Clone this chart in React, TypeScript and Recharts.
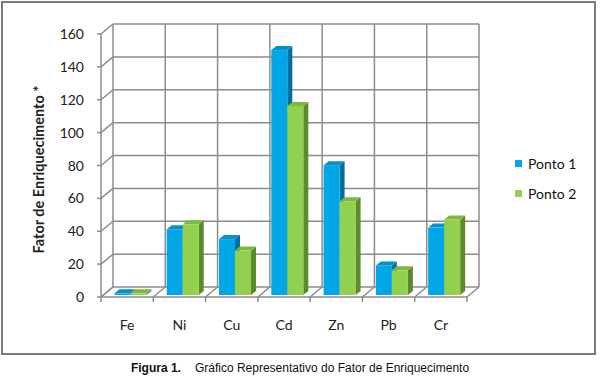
import { Bar, BarChart, CartesianGrid, XAxis, YAxis } from "recharts";

const CATEGORIES = ["Fe", "Ni", "Cu", "Cd", "Zn", "Pb", "Cr"];
const PONTO_1 = [1, 40, 34, 149, 79, 18, 41];
const PONTO_2 = [1, 43, 27, 115, 57, 15, 46];
const Y_TICKS = [0, 20, 40, 60, 80, 100, 120, 140, 160];

const SERIES = [
  { key: "p1", name: "Ponto 1", front: "#00a6e6", top: "#0b8fca", side: "#006f9e" },
  { key: "p2", name: "Ponto 2", front: "#92d050", top: "#7db83f", side: "#5c8a2c" },
];

const data = CATEGORIES.map((name, i) => ({ name, p1: PONTO_1[i], p2: PONTO_2[i] }));

// back wall of the 3D box; the floor and side wall are drawn in front of it
const PLOT_LEFT = 113;
const PLOT_TOP = 24;
const PLOT_W = 366;
const PLOT_H = 263;
const Y_AXIS_W = 80;
const X_AXIS_H = 30;

// oblique offset from the back wall to the front edge
const WALL_DX = 12;
const WALL_DY = 10;
// bars stand a little in front of the back wall
const BAR_DX = -9;
const BAR_DY = 8;
const DEPTH_X = 5;
const DEPTH_Y = 4;

const GRID = "#8c8c8c";
const FONT = "Lato, 'Open Sans', sans-serif";

function Box3D(props: any) {
  const { x, y, width, height, colors } = props;
  if (width == null || height == null) return null;
  const fx = x + BAR_DX;
  const fy = y + BAR_DY;
  const h = Math.max(height, 1);
  const w = width;
  return (
    <g>
      <polygon
        points={`${fx + w},${fy} ${fx + w + DEPTH_X},${fy - DEPTH_Y} ${fx + w + DEPTH_X},${fy + h - DEPTH_Y} ${fx + w},${fy + h}`}
        fill={colors.side}
      />
      <polygon
        points={`${fx},${fy} ${fx + DEPTH_X},${fy - DEPTH_Y} ${fx + w + DEPTH_X},${fy - DEPTH_Y} ${fx + w},${fy}`}
        fill={colors.top}
      />
      <rect x={fx} y={fy} width={w} height={h} fill={colors.front} />
    </g>
  );
}

function renderHLine(props: any) {
  const { x1, y1, x2, key } = props;
  const floor = Math.abs(y1 - (PLOT_TOP + PLOT_H)) < 0.5;
  return (
    <g key={key} stroke={GRID} strokeWidth={1.5}>
      <line x1={x1} y1={y1} x2={x2} y2={y1} />
      <line x1={x1 - WALL_DX} y1={y1 + WALL_DY} x2={x1} y2={y1} />
      <line x1={x1 - WALL_DX - 4} y1={y1 + WALL_DY} x2={x1 - WALL_DX} y2={y1 + WALL_DY} />
      {floor && <line x1={x1 - WALL_DX} y1={y1 + WALL_DY} x2={x2 - WALL_DX} y2={y1 + WALL_DY} />}
    </g>
  );
}

function renderVLine(props: any) {
  const { x1, y1, y2, key, index } = props;
  return (
    <g key={key} stroke={GRID} strokeWidth={1.5}>
      <line x1={x1} y1={y1} x2={x1} y2={y2} />
      <line x1={x1 - WALL_DX} y1={y2 + WALL_DY} x2={x1} y2={y2} />
      <line x1={x1 - WALL_DX} y1={y2 + WALL_DY} x2={x1 - WALL_DX} y2={y2 + WALL_DY + 5} />
      {index === 0 && <line x1={x1 - WALL_DX} y1={y1 + WALL_DY} x2={x1 - WALL_DX} y2={y2 + WALL_DY} />}
    </g>
  );
}

function YTick({ x, y, payload }: any) {
  return (
    <text x={x - WALL_DX - 17} y={y + WALL_DY + 5} textAnchor="end" fontFamily={FONT} fontSize={14} fill="#222">
      {payload.value}
    </text>
  );
}

function XTick({ x, y, payload }: any) {
  return (
    <text x={x - WALL_DX} y={y + 43} textAnchor="middle" fontFamily={FONT} fontSize={14} fill="#222">
      {payload.value}
    </text>
  );
}

function YTitle({ viewBox }: any) {
  const cx = viewBox.x + 5;
  const cy = viewBox.y + viewBox.height / 2 + WALL_DY + 4;
  return (
    <text
      x={cx}
      y={cy}
      transform={`rotate(-90, ${cx}, ${cy})`}
      textAnchor="middle"
      dominantBaseline="central"
      fontFamily={FONT}
      fontSize={14.5}
      fontWeight="bold"
      fill="#222"
    >
      Fator de Enriquecimento *
    </text>
  );
}

export default function App() {
  const n = CATEGORIES.length;
  return (
    <div style={{ position: "absolute", left: 0, top: 0, width: 600, height: 385, background: "#fff" }}>
      <div
        style={{
          position: "absolute",
          left: 1,
          top: 1,
          width: 591,
          height: 350,
          border: "2px solid #7a7a7a",
        }}
      />
      <div style={{ position: "absolute", left: 0, top: 0 }}>
        <BarChart
          width={600}
          height={385}
          data={data}
          barCategoryGap="20%"
          barGap={0}
          margin={{
            top: PLOT_TOP,
            right: 600 - PLOT_LEFT - PLOT_W,
            bottom: 385 - PLOT_TOP - PLOT_H - X_AXIS_H,
            left: PLOT_LEFT - Y_AXIS_W,
          }}
        >
          <CartesianGrid
            horizontal={renderHLine}
            vertical={renderVLine}
            verticalCoordinatesGenerator={({ offset }: any) =>
              Array.from({ length: n + 1 }, (_, i) => offset.left + (i * offset.width) / n)
            }
          />
          <XAxis
            dataKey="name"
            height={X_AXIS_H}
            axisLine={false}
            tickLine={false}
            tickSize={0}
            tickMargin={0}
            interval={0}
            tick={<XTick />}
          />
          <YAxis
            domain={[0, 160]}
            ticks={Y_TICKS}
            width={Y_AXIS_W}
            axisLine={false}
            tickLine={false}
            tickSize={0}
            tickMargin={0}
            interval={0}
            tick={<YTick />}
            label={{ content: YTitle }}
          />
          {SERIES.map((s) => (
            <Bar
              key={s.key}
              dataKey={s.key}
              name={s.name}
              fill={s.front}
              isAnimationActive={false}
              shape={(p: any) => <Box3D {...p} colors={s} />}
            />
          ))}
        </BarChart>
      </div>
      {SERIES.map((s, i) => (
        <div
          key={s.key}
          style={{
            position: "absolute",
            left: 515,
            top: 154 + i * 30,
            height: 18,
            display: "flex",
            alignItems: "center",
            fontFamily: FONT,
            fontSize: 14,
            color: "#111",
          }}
        >
          <span style={{ width: 7, height: 7, background: s.front, marginRight: 6, display: "inline-block" }} />
          {s.name}
        </div>
      ))}
      <div
        style={{
          position: "absolute",
          left: 0,
          top: 361,
          width: 600,
          textAlign: "center",
          fontFamily: "'Liberation Sans', Arial, sans-serif",
          fontSize: 12,
          color: "#111",
          lineHeight: "14px",
        }}
      >
        <b>Figura 1.</b>
        <span style={{ marginLeft: 14 }}>Gráfico Representativo do Fator de Enriquecimento</span>
      </div>
    </div>
  );
}
